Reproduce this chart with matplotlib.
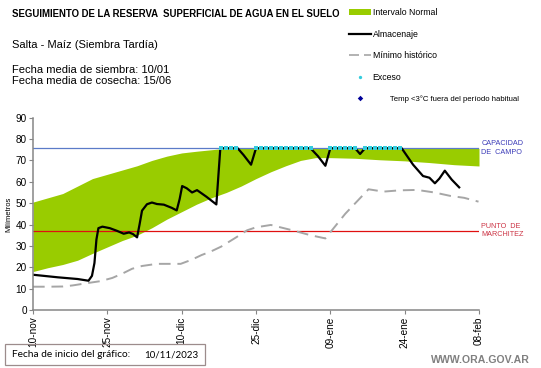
import numpy as np
import matplotlib
matplotlib.use("Agg")
from matplotlib import pyplot as plt
from matplotlib.lines import Line2D
from matplotlib.patches import Patch, Rectangle
import matplotlib.transforms as mtransforms

plt.rcParams["font.family"] = ["Liberation Sans", "DejaVu Sans"]

# days since 10-nov-2023
tick_days = [0, 15, 30, 45, 60, 75, 90]
tick_labels = ["10-nov", "25-nov", "10-dic", "25-dic", "09-ene", "24-ene", "08-feb"]

# intervalo normal (upper / lower limits)
band_days = [0, 3, 6, 9, 12, 15, 18, 21, 24, 27, 30, 33, 36, 39, 42, 45, 48,
             51, 54, 57, 60, 65, 70, 75, 80, 85, 90]
band_upper = [50.5, 52.5, 54.5, 58, 61.5, 63.5, 65.5, 67.5, 70, 72, 73.5, 74.3,
              75, 75.7, 75.7, 75.7, 75.7, 75.7, 75.7, 75.7, 75.7, 75.7, 75.7,
              75.7, 75.7, 75.7, 75.7]
band_lower = [18, 19.8, 21.3, 23.3, 26.5, 29.5, 32.5, 35, 38.5, 42.5, 46, 49.5,
              52.5, 55, 58, 61.5, 64.7, 67.5, 70, 71.3, 71.3, 71, 70.3, 69.8,
              69, 68, 67.4]

# almacenaje
stor_days = [0, 5, 9, 11.2, 11.9, 12.4, 12.8, 13.2, 14, 15.5, 17, 18.3, 19.4,
             20.2, 21, 21.5, 22, 23, 24, 25, 26.4, 28, 29, 29.6, 30.1, 31, 32.1,
             33.1, 35, 37, 37.8, 41.3, 42.5, 44, 45, 56, 57.5, 59, 60, 65, 66,
             67, 74.4, 75.5, 76.7, 78.7, 80, 81.1, 82, 83.1, 84.5, 86]
stor_vals = [16.5, 15.3, 14.5, 13.7, 16, 22, 33, 38.3, 39, 38.3, 37, 35.7, 36.3,
             35.5, 34, 40, 46.5, 49.5, 50.3, 49.6, 49.3, 47.8, 46.6, 52, 58, 57,
             55, 56.1, 53, 49.4, 75.7, 75.7, 72.5, 68, 75.7, 75.7, 72, 67.5, 75.7,
             75.7, 73, 75.7, 75.7, 72, 68, 62.7, 61.9, 59.3, 61.5, 65.2, 61, 57.4]

# minimo historico
min_days = [0, 3, 6, 8, 11, 13.6, 16, 18, 20, 22, 25, 29.8, 32, 34, 36, 38, 41,
            43.2, 45, 48, 52, 56, 59, 63, 67.7, 70.7, 74, 77.5, 81, 84.2, 87, 89.9]
min_vals = [10.9, 10.9, 11, 11.5, 12.6, 13.5, 15, 17, 19.3, 20.6, 21.6, 21.6,
            23.5, 25.7, 27.5, 29.7, 34, 37.3, 38.7, 39.8, 37.5, 35, 33.5, 45,
            56.5, 55.4, 56, 56.2, 55, 53.4, 52.5, 50.7]

# exceso (days at field capacity)
exc_days = [38, 39, 40, 41, 45, 46, 47, 48, 49, 50, 51, 52, 53, 54, 55, 56,
            60, 61, 62, 63, 64, 65, 67, 68, 69, 70, 71, 72, 73, 74]

capacidad = 75.7
marchitez = 37.2

green = "#99CC00"
fig = plt.figure(figsize=(5.41, 3.68), dpi=100)
ax = fig.add_axes([0.061, 0.1576, 0.8244, 0.5226])

ax.fill_between(band_days, band_lower, band_upper, color=green, lw=0)
ax.axhline(capacidad, color="#5B7BC8", lw=0.9)
ax.axhline(marchitez, color="#E01010", lw=0.9)
ax.plot(min_days, min_vals, color="#A6A6A6", lw=1.4, dashes=(6, 3.5))
ax.plot(stor_days, stor_vals, color="black", lw=1.6)
ax.plot(exc_days, [capacidad] * len(exc_days), ls="none", marker="s",
        ms=3.3, color="#33CCDD", mew=0)

ax.set_xlim(0, 90)
ax.set_ylim(0, 90)
ax.set_xticks(tick_days)
ax.set_xticklabels(tick_labels, rotation=90, fontsize=7.2)
ax.set_yticks(range(0, 91, 10))
ax.tick_params(axis="y", labelsize=7.2, length=3, color="#868686", pad=1.5)
ax.tick_params(axis="x", length=3, color="#868686", pad=1.5)
for s in ["top", "right"]:
    ax.spines[s].set_visible(False)
for s in ["left", "bottom"]:
    ax.spines[s].set_color("#868686")
    ax.spines[s].set_linewidth(1.1)
ax.set_ylabel("Milímetros", fontsize=5.5, labelpad=2)

tr = mtransforms.blended_transform_factory(ax.transAxes, ax.transData)
ax.text(1.005, capacidad, "CAPACIDAD\nDE  CAMPO", transform=tr, fontsize=5.2,
        color="#3B3BB8", va="center", ha="left", multialignment="left",
        linespacing=1.3)
ax.text(1.005, marchitez, "PUNTO  DE\nMARCHITEZ", transform=tr, fontsize=5.2,
        color="#CC3344", va="center", ha="left", multialignment="left",
        linespacing=1.3)

W, H = 541, 368
fig.text(12 / W, 1 - 14 / H, "SEGUIMIENTO DE LA RESERVA  SUPERFICIAL DE AGUA EN EL SUELO",
         fontsize=6.9, fontweight="bold", va="center")
fig.text(12 / W, 1 - 44.5 / H, "Salta - Maíz (Siembra Tardía)", fontsize=8, va="center")
fig.text(12 / W, 1 - 70 / H, "Fecha media de siembra: 10/01", fontsize=8, va="center")
fig.text(12 / W, 1 - 81.5 / H, "Fecha media de cosecha: 15/06", fontsize=8, va="center")

handles = [
    Patch(facecolor=green, edgecolor="none"),
    Line2D([], [], color="black", lw=1.6),
    Line2D([], [], color="#A6A6A6", lw=1.2, dashes=(6, 3)),
    Line2D([], [], ls="none", marker="o", ms=2.4, color="#33CCDD", mew=0),
    Line2D([], [], ls="none", marker="D", ms=2.8, color="#000099", mew=0),
]
labels = ["Intervalo Normal", "Almacenaje", "Mínimo histórico", "Exceso",
          "        Temp <3°C fuera del período habitual"]
leg = fig.legend(handles, labels, loc="upper left", bbox_to_anchor=(349 / W, 1 - 8 / H),
                 frameon=False, fontsize=6.3, handlelength=2.5, handletextpad=0.2,
                 labelspacing=1.45, borderpad=0, borderaxespad=0)
leg.get_texts()[4].set_fontsize(5.6)

fig.patches.append(Rectangle((5 / W, 1 - 365 / H), 200 / W, 21 / H,
                             transform=fig.transFigure, fill=False,
                             edgecolor="#9C8C8C", lw=0.9))
fig.text(12 / W, 1 - 354.5 / H, "Fecha de inicio del gráfico:", fontsize=7.3,
         family="Lato", va="center")
fig.text(144 / W, 1 - 354.5 / H, "10/11/2023", fontsize=7.0, family="Lato", va="center")
fig.text(530 / W, 1 - 360 / H, "WWW.ORA.GOV.AR", fontsize=7.6, fontweight="bold",
         color="#808080", ha="right", va="center")

fig.savefig("out.png", dpi=100)
